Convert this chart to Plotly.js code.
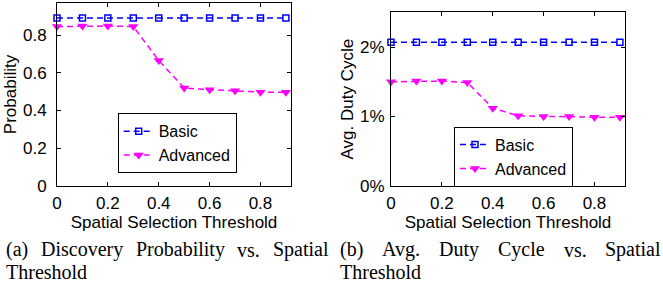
<!DOCTYPE html>
<html><head><meta charset="utf-8">
<script src="https://cdn.plot.ly/plotly-3.0.1.min.js"></script>
<style>html,body{margin:0;padding:0;background:#fff;overflow:hidden}#chart{width:663px;height:284px}</style>
</head><body><div id="chart"></div>
<script>
// ---- data ----
const thresholds = [0, 0.1, 0.2, 0.3, 0.4, 0.5, 0.6, 0.7, 0.8, 0.9];
const seriesNames = ['Basic', 'Advanced'];
const probBasic = [0.89, 0.89, 0.89, 0.89, 0.89, 0.89, 0.89, 0.89, 0.89, 0.89];
const probAdvanced = [0.845, 0.848, 0.848, 0.845, 0.665, 0.52, 0.51, 0.505, 0.497, 0.497];
const dutyBasic = [2.07, 2.07, 2.07, 2.07, 2.07, 2.07, 2.07, 2.07, 2.07, 2.07];
const dutyAdvanced = [1.50, 1.51, 1.51, 1.49, 1.12, 1.01, 1.00, 1.00, 0.99, 0.99];
const xTickVals = [0, 0.2, 0.4, 0.6, 0.8];
const xTickText = ['0', '0.2', '0.4', '0.6', '0.8'];
const probTickVals = [0, 0.2, 0.4, 0.6, 0.8];
const probTickText = ['0', '0.2', '0.4', '0.6', '0.8'];
const dutyTickVals = [0, 1, 2];
const dutyTickText = ['0%', '1%', '2%'];
const xTitle = 'Spatial Selection Threshold';
const probTitle = 'Probability';
const dutyTitle = 'Avg. Duty Cycle';
const captionA1 = ['(a)', 'Discovery', 'Probability', 'vs.', 'Spatial'];
const captionA2 = 'Threshold';
const captionB1 = ['(b)', 'Avg.', 'Duty', 'Cycle', 'vs.', 'Spatial'];
const captionB2 = 'Threshold';

// ---- layout helpers ----
const W = 663, H = 284;
const px = v => v / W;
const py = v => 1 - v / H;
const SANS = 'Liberation Sans, Arial, sans-serif';
const SERIF = 'Liberation Serif, Times New Roman, serif';
const BLUE = '#0000ff', MAG = '#ff00ff';

function trace(y, name, idx, sub) {
  const basic = idx === 0;
  return {
    x: thresholds, y: y, name: name, type: 'scatter', mode: 'lines+markers',
    xaxis: sub === 1 ? 'x' : 'x2', yaxis: sub === 1 ? 'y' : 'y2',
    legend: sub === 1 ? 'legend' : 'legend2',
    line: {color: basic ? BLUE : MAG, width: 1.5, dash: '6px,4px'},
    marker: basic ? {symbol: 'square-open', size: 6, color: BLUE, line: {width: 1.5, color: BLUE}}
                  : {symbol: 'triangle-down', size: 9, color: MAG},
    cliponaxis: false
  };
}

const data = [
  trace(probBasic, seriesNames[0], 0, 1),
  trace(probAdvanced, seriesNames[1], 1, 1),
  trace(dutyBasic, seriesNames[0], 0, 2),
  trace(dutyAdvanced, seriesNames[1], 1, 2)
];

function xAxis(domain, anchor) {
  return {
    domain: domain, anchor: anchor, range: [0, 0.92],
    tickmode: 'array', tickvals: xTickVals, ticktext: xTickText,
    ticks: 'inside', ticklen: 4, tickwidth: 1, tickcolor: '#000',
    showline: true, linecolor: '#000', linewidth: 1, mirror: 'ticks',
    showgrid: false, zeroline: false, ticklabelstandoff: 2,
    tickfont: {family: SANS, size: 17, color: '#000'},
    title: {text: xTitle, font: {family: SANS, size: 17, color: '#000'}, standoff: 0}
  };
}
function yAxis(domain, anchor, range, tv, tt, title, standoff) {
  return {
    domain: domain, anchor: anchor, range: range,
    tickmode: 'array', tickvals: tv, ticktext: tt,
    ticks: 'inside', ticklen: 4, tickwidth: 1, tickcolor: '#000',
    showline: true, linecolor: '#000', linewidth: 1, mirror: 'ticks',
    showgrid: false, zeroline: false, ticklabelstandoff: standoff,
    tickfont: {family: SANS, size: 17, color: '#000'},
    title: {text: title, font: {family: SANS, size: 17, color: '#000'}, standoff: 2}
  };
}

// justified caption words, measured with canvas
const ctx = document.createElement('canvas').getContext('2d');
const CAP_FONT = 20;
ctx.font = CAP_FONT + 'px "Liberation Serif"';
const annotations = [];
function addWord(w, x, y, anchor) {
  annotations.push({text: w, xref: 'paper', yref: 'paper', x: px(x), y: py(y),
    xanchor: 'left', yanchor: anchor, showarrow: false, borderpad: 0,
    font: {family: SERIF, size: CAP_FONT, color: '#000'}});
}
function justify(words, left, right, yc) {
  const widths = words.map(w => ctx.measureText(w).width);
  const total = widths.reduce((a, b) => a + b, 0);
  const gap = (right - left - total) / (words.length - 1);
  let x = left;
  words.forEach((w, i) => { addWord(w, x, yc, 'middle'); x += widths[i] + gap; });
}
justify(captionA1, 5, 327.5, 249.5);
addWord(captionA2, 5, 284, 'bottom');
justify(captionB1, 338.5, 660, 249.5);
addWord(captionB2, 338.5, 284, 'bottom');

const legendCommon = {
  xref: 'paper', yref: 'paper', xanchor: 'left', yanchor: 'top',
  bgcolor: '#fff', bordercolor: '#000', borderwidth: 1,
  font: {family: SANS, size: 16, color: '#000'},
  tracegroupgap: 0, itemwidth: 30
};

const layout = {
  width: W, height: H, margin: {l: 0, r: 0, t: 0, b: 0},
  paper_bgcolor: '#fff', plot_bgcolor: '#fff', showlegend: true,
  xaxis: xAxis([px(57), px(291)], 'y'),
  yaxis: yAxis([py(186), py(3)], 'x', [0, 0.97], probTickVals, probTickText, probTitle, 6),
  xaxis2: xAxis([px(391), px(625)], 'y2'),
  yaxis2: yAxis([py(186), py(12.3)], 'x2', [0, 2.5], dutyTickVals, dutyTickText, dutyTitle, 2),
  legend: Object.assign({x: px(117.7), y: py(113.3)}, legendCommon),
  legend2: Object.assign({x: px(454), y: py(126.7)}, legendCommon),
  annotations: annotations
};

Plotly.newPlot('chart', data, layout, {displayModeBar: false, staticPlot: true});
</script>
</body></html>
